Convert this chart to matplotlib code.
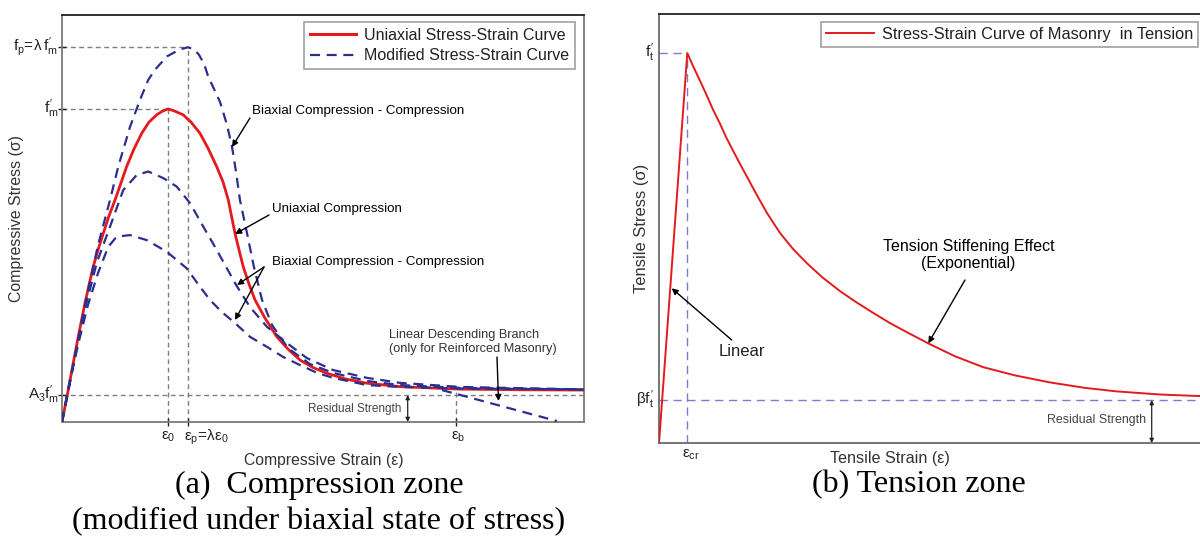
import matplotlib
matplotlib.use("Agg")
import matplotlib.pyplot as plt
from matplotlib.lines import Line2D
from matplotlib.patches import FancyArrowPatch

plt.rcParams['font.family'] = ['Liberation Sans', 'DejaVu Sans']
plt.rcParams['mathtext.fontset'] = 'custom'
plt.rcParams['mathtext.rm'] = 'Liberation Sans'
plt.rcParams['mathtext.it'] = 'Liberation Sans'
plt.rcParams['mathtext.bf'] = 'Liberation Sans:bold'

# ---------------- data: compression zone (strain / eps0, stress / f'm) ----------------
uni_strain = [0, 0.057, 0.108, 0.160, 0.217, 0.255, 0.295, 0.340, 0.390, 0.443, 0.500, 0.557,
              0.610, 0.679, 0.752, 0.821, 0.893, 0.943, 1.000, 1.057, 1.144, 1.217, 1.302,
              1.377, 1.459, 1.519, 1.569, 1.599, 1.632, 1.670, 1.710, 1.764, 1.821, 1.915,
              2.025, 2.132, 2.245, 2.368, 2.497, 2.679, 2.875, 3.189, 3.472, 3.755, 4.321, 4.925]
uni_stress = [0, 0.099, 0.192, 0.284, 0.380, 0.438, 0.496, 0.550, 0.603, 0.658, 0.709, 0.764,
              0.816, 0.872, 0.922, 0.958, 0.981, 0.992, 1.000, 0.994, 0.981, 0.958, 0.922,
              0.875, 0.816, 0.767, 0.709, 0.658, 0.603, 0.550, 0.496, 0.441, 0.390, 0.332,
              0.273, 0.233, 0.198, 0.174, 0.156, 0.137, 0.124, 0.113, 0.109, 0.105, 0.103, 0.102]

bi_high_strain = [0, 0.113, 0.226, 0.340, 0.453, 0.531, 0.642, 0.736, 0.814, 0.877, 0.991, 1.113,
                  1.189, 1.245, 1.292, 1.340, 1.380, 1.434, 1.491, 1.557, 1.604, 1.642, 1.679,
                  1.745, 1.811, 1.887, 1.981, 2.132, 2.340, 2.557, 2.877, 3.189, 3.755, 4.925]
bi_high_stress = [0, 0.192, 0.390, 0.565, 0.709, 0.816, 0.943, 1.029, 1.093, 1.125, 1.168, 1.190,
                  1.197, 1.190, 1.173, 1.144, 1.103, 1.064, 1.022, 0.949, 0.879, 0.799, 0.709,
                  0.604, 0.495, 0.390, 0.310, 0.236, 0.185, 0.157, 0.131, 0.118, 0.109, 0.104]

bi_mid_strain = [0, 0.113, 0.226, 0.330, 0.453, 0.578, 0.705, 0.814, 0.956, 1.082, 1.208, 1.333,
                 1.459, 1.554, 1.642, 1.774, 1.934, 2.123, 2.311, 2.557, 2.877, 3.189, 3.755, 4.925]
bi_mid_stress = [0, 0.192, 0.374, 0.511, 0.624, 0.741, 0.789, 0.800, 0.779, 0.752, 0.699, 0.624,
                 0.550, 0.492, 0.438, 0.367, 0.304, 0.252, 0.204, 0.166, 0.141, 0.125, 0.112, 0.104]

bi_low_strain = [0, 0.075, 0.151, 0.245, 0.340, 0.437, 0.516, 0.642, 0.799, 0.988, 1.176, 1.302,
                 1.396, 1.509, 1.632, 1.774, 1.934, 2.085, 2.245, 2.406, 2.557, 2.877, 3.189,
                 3.755, 4.925]
bi_low_stress = [0, 0.134, 0.246, 0.374, 0.476, 0.560, 0.592, 0.597, 0.581, 0.544, 0.491, 0.432,
                 0.390, 0.351, 0.316, 0.272, 0.240, 0.208, 0.182, 0.157, 0.141, 0.118, 0.112,
                 0.107, 0.104]

lin_desc_strain = [3.585, 4.670]
lin_desc_stress = [0.102, 0.003]

eps0 = 1.0
eps_p = 1.19
eps_b = 3.72
fm = 1.0
fp = 1.197
A3 = 0.086

# ---------------- data: tension zone (strain / eps_cr, stress / f't) ----------------
ten_strain = [0, 1.0, 1.201, 1.449, 1.696, 1.908, 2.155, 2.367, 2.615, 2.862, 3.145, 3.452,
              3.816, 4.276, 4.735, 5.219, 5.760, 6.396, 6.961, 7.572, 8.163, 8.753, 9.516,
              10.459, 11.459, 12.580, 13.816, 15.053, 16.173, 17.703, 19.117]
ten_stress = [0, 1.0, 0.967, 0.929, 0.890, 0.855, 0.819, 0.785, 0.750, 0.716, 0.678, 0.637,
              0.590, 0.539, 0.498, 0.462, 0.426, 0.390, 0.362, 0.334, 0.308, 0.285, 0.256,
              0.223, 0.195, 0.174, 0.156, 0.142, 0.133, 0.125, 0.121]
eps_cr = 1.0
ft = 1.0
beta = 0.111

# ---------------- figure ----------------
W, H = 1200, 536
fig = plt.figure(figsize=(W / 100, H / 100), dpi=100)


def px(x, y):
    return (x / W, 1 - y / H)


def arrow(p0, p1, **kw):
    fig.add_artist(FancyArrowPatch(px(*p0), px(*p1), transform=fig.transFigure, **kw))


RED = '#e41a1c'
BLUE = '#2b2f8e'
GRAY = '#7f7f7f'
LBLUE = '#7b7bcf'

# ---------- left panel ----------
axL = fig.add_axes([62 / W, 1 - 422 / H, 522 / W, 407 / H])
axL.set_xlim(0, 4.925)
axL.set_ylim(0, 1.30)

gkw = dict(color=GRAY, lw=1.0, dashes=(3.5, 2.5), zorder=1)
axL.plot([0, eps_p], [fp, fp], **gkw)
axL.plot([0, eps0], [fm, fm], **gkw)
axL.plot([0, 4.925], [A3, A3], **gkw)
axL.plot([eps0, eps0], [0, fm], **gkw)
axL.plot([eps_p, eps_p], [0, fp], **gkw)
axL.plot([eps_b, eps_b], [0, 0.1], **gkw)

axL.plot(uni_strain, uni_stress, color=RED, lw=2.0, zorder=3,
         solid_joinstyle='round', solid_capstyle='round')
bkw = dict(color=BLUE, lw=1.6, dashes=(4.5, 3.0), zorder=4)
axL.plot(bi_high_strain, bi_high_stress, **bkw)
axL.plot(bi_mid_strain, bi_mid_stress, **bkw)
axL.plot(bi_low_strain, bi_low_stress, **bkw)
axL.plot(lin_desc_strain, lin_desc_stress, **bkw)

for s in ['left', 'right', 'bottom']:
    axL.spines[s].set_color('#7a7a7a')
    axL.spines[s].set_linewidth(1.3)
axL.spines['top'].set_color('#222222')
axL.spines['top'].set_linewidth(1.3)

axL.set_xticks([eps0, eps_p, eps_b])
axL.set_xticklabels([])
axL.set_yticks([A3, fm, fp])
axL.set_yticklabels([])
axL.tick_params(direction='inout', length=6, width=1.0, color='#222222')

tick_fs = 11
fig.text(*px(58, 47), r'$f_p\!=\!\lambda\, f^{\prime}_m$', ha='right', va='center', fontsize=tick_fs, color='#222')
fig.text(*px(58, 109), r'$f^{\prime}_m$', ha='right', va='center', fontsize=tick_fs, color='#222')
fig.text(*px(59, 395), r'$A_3f^{\prime}_m$', ha='right', va='center', fontsize=tick_fs, color='#222')
fig.text(*px(168, 437), r'$\varepsilon_0$', ha='center', va='center', fontsize=tick_fs, color='#222')
fig.text(*px(184, 437), r'$\varepsilon_p\!=\!\lambda\varepsilon_0$', ha='left', va='center', fontsize=tick_fs, color='#222')
fig.text(*px(458, 437), r'$\varepsilon_b$', ha='center', va='center', fontsize=tick_fs, color='#222')

fig.text(*px(324, 460), 'Compressive Strain (ε)', ha='center', va='center', fontsize=11.3, color='#333')
fig.text(*px(17, 218), 'Compressive Stress (σ)', ha='center', va='center', rotation=90,
         fontsize=11.4, color='#333')

legL = [Line2D([], [], color=RED, lw=2.2),
        Line2D([], [], color=BLUE, lw=1.6, dashes=(4.5, 3.0))]
lg = fig.legend(legL, ['Uniaxial Stress-Strain Curve', 'Modified Stress-Strain Curve'],
                loc='upper right', bbox_to_anchor=px(575, 22), bbox_transform=fig.transFigure,
                fontsize=11.5, frameon=True, fancybox=False, edgecolor='#888888',
                borderaxespad=0, handlelength=2.9, borderpad=0.35, labelspacing=0.35,
                handletextpad=0.5)
lg.get_frame().set_linewidth(1.2)
for t in lg.get_texts():
    t.set_color('#222')

akw = dict(arrowstyle='-|>', lw=1.0, color='black', mutation_scale=9, shrinkA=0, shrinkB=0)
ann_fs = 9.6
fig.text(*px(252, 110.7), 'Biaxial Compression - Compression', ha='left', va='center', fontsize=ann_fs)
arrow((250, 118), (232, 147), **akw)
fig.text(*px(271.5, 209.3), 'Uniaxial Compression', ha='left', va='center', fontsize=ann_fs)
arrow((269, 215), (235, 234), **akw)
fig.text(*px(272, 262), 'Biaxial Compression - Compression', ha='left', va='center', fontsize=ann_fs)
arrow((264, 267), (237, 285), **akw)
arrow((264, 267), (235, 320), **akw)
fig.text(*px(389, 342), 'Linear Descending Branch\n(only for Reinforced Masonry)', ha='left', va='center',
         fontsize=9.2, color='#333', linespacing=1.15)
arrow((497, 357), (498.5, 401), **akw)
fig.text(*px(355, 409.3), 'Residual Strength', ha='center', va='center', fontsize=8.5, color='#444')
dkw = dict(arrowstyle='<|-|>', lw=0.9, color='#222', mutation_scale=6, shrinkA=0, shrinkB=0)
arrow((407.7, 395), (407.7, 422), **dkw)

# ---------- right panel ----------
axR = fig.add_axes([659 / W, 1 - 443.3 / H, 543 / W, 429.3 / H])
axR.set_xlim(0, 19.19)
axR.set_ylim(0, 1.10)
lkw = dict(color=LBLUE, lw=1.0, dashes=(6, 4), zorder=1)
axR.plot([0, eps_cr], [ft, ft], **lkw)
axR.plot([eps_cr, eps_cr], [0, ft], **lkw)
axR.plot([0, 19.19], [beta, beta], **lkw)
axR.plot(ten_strain, ten_stress, color=RED, lw=1.4, zorder=3, solid_joinstyle='round')
for s in ['left', 'right', 'bottom']:
    axR.spines[s].set_color('#6a6a6a')
    axR.spines[s].set_linewidth(1.3)
axR.spines['top'].set_color('#222222')
axR.spines['top'].set_linewidth(1.3)
axR.set_xticks([])
axR.set_yticks([])

fig.text(*px(654, 53), r'$f^{\prime}_t$', ha='right', va='center', fontsize=tick_fs, color='#222')
fig.text(*px(654, 400), r'$\beta f^{\prime}_t$', ha='right', va='center', fontsize=tick_fs, color='#222')
fig.text(*px(682, 455), r'$\varepsilon_{cr}$', ha='left', va='center', fontsize=tick_fs, color='#222')
fig.text(*px(890, 458), 'Tensile Strain (ε)', ha='center', va='center', fontsize=11.6, color='#333')
fig.text(*px(641.5, 228), 'Tensile Stress (σ)', ha='center', va='center', rotation=90,
         fontsize=11.9, color='#333')

lgR = fig.legend([Line2D([], [], color=RED, lw=1.4)], ['Stress-Strain Curve of Masonry  in Tension'],
                 loc='upper right', bbox_to_anchor=px(1198, 22), bbox_transform=fig.transFigure,
                 fontsize=11.8, frameon=True, fancybox=False, edgecolor='#888888',
                 borderaxespad=0, handlelength=2.9, borderpad=0.3, handletextpad=0.5)
lgR.get_frame().set_linewidth(1.2)
for t in lgR.get_texts():
    t.set_color('#222')

fig.text(*px(741.7, 351.7), 'Linear', ha='center', va='center', fontsize=12, color='#222')
arrow((731.7, 340), (671.7, 288.3), **akw)
fig.text(*px(968.5, 255), 'Tension Stiffening Effect\n(Exponential)', ha='center', va='center',
         fontsize=11.5, linespacing=1.1, multialignment='center')
arrow((965, 280), (928.3, 343.3), **akw)
fig.text(*px(1096.7, 420), 'Residual Strength', ha='center', va='center', fontsize=8.9, color='#444')
arrow((1151.7, 400), (1151.7, 443), **dkw)

# ---------- captions ----------
cap_kw = dict(ha='center', va='center', fontsize=23, family=['Liberation Serif', 'DejaVu Serif'])
fig.text(*px(319, 485), '(a)  Compression zone', **cap_kw)
fig.text(*px(319, 521.7), '(modified under biaxial state of stress)', **cap_kw)
fig.text(*px(919, 485), '(b) Tension zone', **cap_kw)

fig.savefig('out.png', dpi=100)
